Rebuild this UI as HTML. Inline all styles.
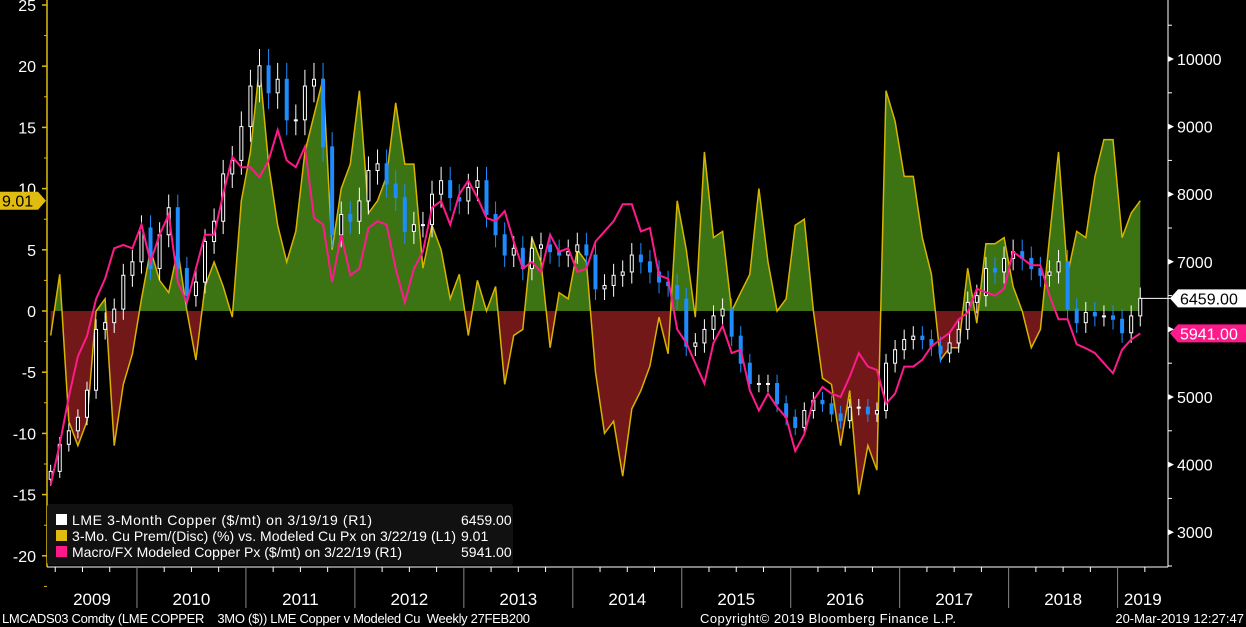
<!DOCTYPE html>
<html><head><meta charset="utf-8">
<style>
html,body{margin:0;padding:0;background:#000;}
svg{display:block;font-family:"Liberation Sans",sans-serif;}
</style></head>
<body>
<svg id="chart" width="1246" height="627" viewBox="0 0 1246 627" xmlns="http://www.w3.org/2000/svg">
<rect x="0" y="0" width="1246" height="627" fill="#000"/>
<g id="plot"></g>
<g id="axes"></g>
<g>
  <rect x="47" y="504" width="466" height="61" rx="3" fill="#111"/>
  <g font-size="14" fill="#fff">
    <rect x="56" y="514" width="11" height="11" fill="#fff"/>
    <text x="72" y="525" textLength="300">LME 3-Month Copper ($/mt) on 3/19/19 (R1)</text>
    <text x="461" y="525">6459.00</text>
    <rect x="56" y="530" width="11" height="11" fill="#e0bc10"/>
    <text x="72" y="541" textLength="384">3-Mo. Cu Prem/(Disc) (%) vs. Modeled Cu Px on 3/22/19 (L1)</text>
    <text x="461" y="541">9.01</text>
    <rect x="56" y="546" width="11" height="11" fill="#ff1a8c"/>
    <text x="72" y="557" textLength="330">Macro/FX Modeled Copper Px ($/mt) on 3/22/19 (R1)</text>
    <text x="461" y="557">5941.00</text>
  </g>
</g>
<g font-size="13" fill="#fff">
  <text x="2" y="623" textLength="528" xml:space="preserve">LMCADS03 Comdty (LME COPPER    3MO ($)) LME Copper v Modeled Cu  Weekly 27FEB200</text>
  <text x="700" y="623" textLength="256">Copyright© 2019 Bloomberg Finance L.P.</text>
  <text x="1244" y="623" text-anchor="end">20-Mar-2019 12:27:47</text>
</g>
</svg>
<script>
// monthly data, Mar 2009 .. Mar 2019
const startMonth = 2; // months since Jan 2009
const lmeCopper = [3900,4300,4500,4700,5100,6000,6100,6300,6800,7000,
7500,6900,7400,7800,6900,6500,6700,7300,7600,8300,8500,9000,
9600,9900,9500,9700,9100,9100,9600,9700,8700,7400,7700,7600,
7900,8350,8450,8150,7950,7450,7550,7550,8000,8200,7950,7900,
8100,8200,7700,7400,7100,7200,6900,7200,7250,7150,7100,7150,
7250,7100,6600,6650,6800,6850,7100,7000,6850,6700,6650,6450,
5750,5800,6000,6200,6300,5900,5500,5200,5200,5200,4900,4700,
4550,4800,4950,4900,4750,4650,4850,4850,4750,4800,5500,5700,
5850,5900,5850,5750,5650,5800,6000,6400,6500,6900,6850,7050,
7150,7050,6900,6800,6850,7000,6300,6100,6250,6200,6200,6150,
5950,6200,6459];
const modeledPx = [3700,4300,5000,5600,5900,6450,6750,7200,7250,7200,
7550,7000,7400,7700,6700,6400,6900,7400,7400,8000,8550,8400,
8400,8250,8500,8950,8500,8400,8700,7650,7550,6700,7400,6800,
6900,7500,7600,7550,6900,6400,6900,7150,7800,7900,7550,8000,
8200,7950,7650,7600,7750,7300,6900,7000,6850,7400,7150,7200,
6850,6900,7300,7450,7600,7850,7850,7450,7500,6800,6750,6000,
5800,5500,5200,5800,6050,5650,5700,5100,4800,5050,4850,4700,
4200,4450,4950,5150,5050,5000,5300,5650,5450,5400,4900,5050,
5450,5450,5550,5750,5850,5950,6150,6250,6600,6550,6500,6600,
7150,7050,6950,6950,6500,6150,6150,5780,5720,5650,5500,5350,
5700,5850,5941];
const premium = [-2,3,-9,-11,-9,0,1,-11,-6,-3.5,
1,5,2.5,1.5,5,0,-4,2,4,2,-0.5,9,
13,20,12,7,4,6.5,13,16,19,5,10,12,
18,8,9,11,17,12,12,3.5,7,5,1,3,
-2,2.5,0,2,-6,-2,-1.5,6,4,-3,1.5,1,
5,4,-5,-10,-9,-13.5,-8,-6.5,-4.5,-0.5,-3.5,9,
5,-0.5,13,6,6.5,0,1.5,3,10,4,0,1,
7,7.5,0,-5.5,-6,-11,-6.5,-15,-11,-13,18,15.5,
11,11,6,3,-4,-3,-3,3.5,-1,5.5,5.5,6,
2,0,-3,-1.5,6,13,3,6.5,6,11,14,14,
6,8,9.01];
const yearLabels = ["2009","2010","2011","2012","2013","2014","2015","2016","2017","2018","2019"];
const leftTicks = [25,20,15,10,5,0,-5,-10,-15,-20];
const rightTicks = [10000,9000,8000,7000,6000,5000,4000,3000];

const NS="http://www.w3.org/2000/svg";
const X0=47, X1=1168, YB=567;
function xOfMonth(m){return 32.5+9.08*m;}
function yLeft(v){return 311-v*12.24;}
function yRight(p){return 59+(10000-p)*0.0676;}
function mk(tag,attrs,parent){const e=document.createElementNS(NS,tag);for(const k in attrs)e.setAttribute(k,attrs[k]);parent.appendChild(e);return e;}
const plot=document.getElementById('plot'), axes=document.getElementById('axes');

const defs=mk('defs',{},plot);
const cu=mk('clipPath',{id:'above'},defs); mk('rect',{x:0,y:0,width:1246,height:yLeft(0)},cu);
const cd=mk('clipPath',{id:'below'},defs); mk('rect',{x:0,y:yLeft(0),width:1246,height:627},cd);
let pts=premium.map((v,i)=>[xOfMonth(startMonth+i),yLeft(v)]);
let areaD='M'+pts[0][0]+','+yLeft(0)+' '+pts.map(p=>'L'+p[0].toFixed(1)+','+p[1].toFixed(1)).join(' ')+' L'+pts[pts.length-1][0]+','+yLeft(0)+'Z';
const ga=mk('path',{d:areaD,fill:'#3c7414','clip-path':'url(#above)'},plot);


const ra=mk('path',{d:areaD,fill:'#731818','clip-path':'url(#below)'},plot);


const pl=mk('path',{d:'M'+pts.map(p=>p[0].toFixed(1)+','+p[1].toFixed(1)).join(' L'),fill:'none',stroke:'#d8b400','stroke-width':1.5},plot);



const cg=mk('g',{},plot);


lmeCopper.forEach((c,i)=>{
  const o=i>0?lmeCopper[i-1]:c*0.97;
  const x=xOfMonth(startMonth+i);
  const up=c>=o;
  const hi=Math.max(o,c)*1.025, lo=Math.min(o,c)*0.975;
  const col=up?'#fff':'#1e8cff';
  const w=mk('line',{x1:x,x2:x,y1:yRight(hi),y2:yRight(lo),stroke:col,'stroke-width':1},cg);
  
  
  const yt=yRight(Math.max(o,c)), yb=yRight(Math.min(o,c));
  const r=mk('rect',{x:x-1.5,y:yt,width:3,height:Math.max(1,yb-yt),fill:up?'#000':'#1e8cff',stroke:col,'stroke-width':1},cg);
  
  
});
const mp=mk('path',{d:'M'+modeledPx.map((v,i)=>xOfMonth(startMonth+i).toFixed(1)+','+yRight(v).toFixed(1)).join(' L'),fill:'none',stroke:'#ff1a8c','stroke-width':2},plot);



const la=mk('line',{x1:X0,x2:X0,y1:0,y2:YB,stroke:'#e0bc10','stroke-width':1.5},axes);


const rax=mk('line',{x1:X1,x2:X1,y1:0,y2:YB,stroke:'#fff','stroke-width':1},axes);


const bax=mk('line',{x1:X0,x2:X1,y1:YB,y2:YB,stroke:'#fff','stroke-width':1},axes);


leftTicks.forEach(v=>{
  const y=yLeft(v);
  mk('line',{x1:X0-5,x2:X0,y1:y,y2:y,stroke:'#e0bc10','stroke-width':1.5},axes);
  mk('line',{x1:X0-3,x2:X0,y1:y+30.6,y2:y+30.6,stroke:'#e0bc10'},axes);
  const t=mk('text',{x:36,y:y+6,'text-anchor':'end','font-size':16,fill:'#fff'},axes);
  t.textContent=v;
  
  
});
rightTicks.forEach(v=>{
  const y=yRight(v);
  mk('path',{d:`M${X1},${y-3} L${X1+6},${y} L${X1},${y+3}Z`,fill:'#fff'},axes);
  mk('line',{x1:X1,x2:X1+4,y1:y-33.8,y2:y-33.8,stroke:'#fff'},axes);
  const t=mk('text',{x:X1+9,y:y+6,'font-size':16,fill:'#fff'},axes);
  t.textContent=v;
  
  
});
mk('line',{x1:X1,x2:X1+4,y1:yRight(3000)+33.8,y2:yRight(3000)+33.8,stroke:'#fff'},axes);
for(let m=3;m<=123;m+=3){
  const x=xOfMonth(m)-4.5;
  if(x<X0||x>X1) continue;
  if(m%12===0) mk('line',{x1:x,x2:x,y1:YB,y2:608,stroke:'#888'},axes);
  else mk('line',{x1:x,x2:x,y1:YB,y2:YB+5,stroke:'#fff'},axes);
}
yearLabels.forEach((lab,i)=>{
  let a=Math.max(X0,xOfMonth(12*i)-4.5), b=Math.min(1150,xOfMonth(12*i+12)-4.5);
  if(i===10) b=1168;
  const t=mk('text',{x:(a+b)/2,y:605,'text-anchor':'middle','font-size':17,fill:'#fff'},axes);
  t.textContent=lab;
  
  
});
const lastX=xOfMonth(startMonth+lmeCopper.length-1);
const yl=yRight(lmeCopper[lmeCopper.length-1]);
mk('line',{x1:lastX,x2:X1+6,y1:yl,y2:yl,stroke:'#fff'},axes);
function badge(x,y,w,txt,bg,fg,left,name){
  const g=mk('g',{},axes);
  
  
  const h=18;
  const d=left?`M${x},${y} L${x+8},${y-h/2} L${x+w},${y-h/2} L${x+w},${y+h/2} L${x+8},${y+h/2}Z`
              :`M${x},${y} L${x-8},${y-h/2} L${x-w},${y-h/2} L${x-w},${y+h/2} L${x-8},${y+h/2}Z`;
  mk('path',{d:d,fill:bg},g);
  const t=mk('text',{x:left?x+10:x-w+2,y:y+6,'font-size':16,fill:fg},g);
  t.textContent=txt;
}
badge(X1+2,yl,78,lmeCopper[lmeCopper.length-1].toFixed(2),'#fff','#000',true,'lme-last-badge');
badge(X1+2,yRight(modeledPx[modeledPx.length-1]),78,modeledPx[modeledPx.length-1].toFixed(2),'#ff1a8c','#fff',true,'model-last-badge');
badge(46,yLeft(premium[premium.length-1]),46,premium[premium.length-1].toFixed(2),'#e0bc10','#000',false,'premium-last-badge');
</script>
</body></html>
